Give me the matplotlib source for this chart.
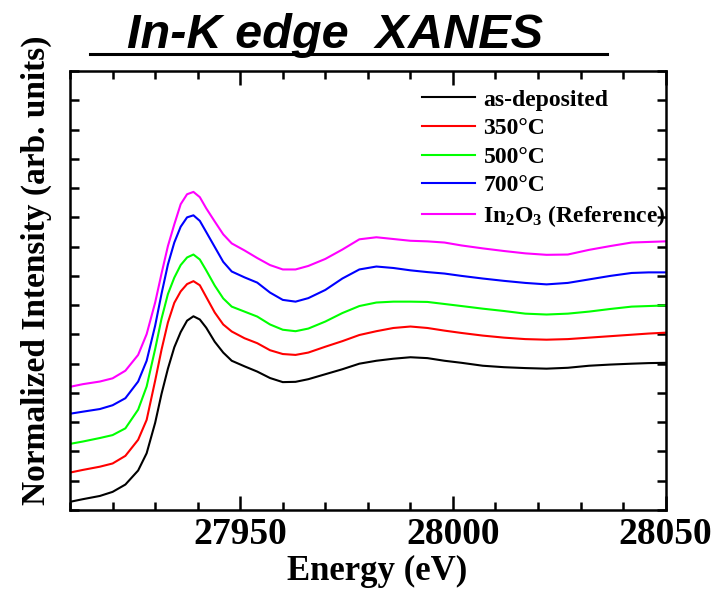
import numpy as np
import matplotlib
matplotlib.use("Agg")
import matplotlib.pyplot as plt
from matplotlib.ticker import MultipleLocator, NullFormatter
from matplotlib.lines import Line2D

# energy grid (eV)
energy = [27910, 27913, 27917, 27920, 27923, 27926, 27928, 27930, 27931.5, 27933,
          27934.5, 27936, 27937.5, 27939, 27940.5, 27942, 27944, 27946, 27948, 27951,
          27954, 27957, 27960, 27963, 27966, 27970, 27974, 27978, 27982, 27986,
          27990, 27994, 27998, 28002, 28007, 28012, 28017, 28022, 28027, 28032,
          28037, 28042, 28046, 28050]

# normalized intensity (stacked with offsets)
as_deposited = [0.028, 0.037, 0.048, 0.062, 0.087, 0.135, 0.194, 0.298, 0.397, 0.483,
                0.556, 0.608, 0.647, 0.662, 0.651, 0.623, 0.575, 0.538, 0.510, 0.491,
                0.473, 0.451, 0.437, 0.438, 0.447, 0.464, 0.481, 0.500, 0.510, 0.517,
                0.522, 0.519, 0.510, 0.503, 0.493, 0.488, 0.485, 0.483, 0.486, 0.493,
                0.497, 0.500, 0.502, 0.503]
t350 = [0.128, 0.137, 0.148, 0.159, 0.185, 0.240, 0.308, 0.442, 0.548, 0.641,
        0.708, 0.747, 0.772, 0.782, 0.768, 0.728, 0.675, 0.634, 0.610, 0.587,
        0.570, 0.546, 0.533, 0.530, 0.538, 0.558, 0.577, 0.598, 0.611, 0.622,
        0.627, 0.622, 0.613, 0.605, 0.596, 0.589, 0.584, 0.582, 0.584, 0.589,
        0.594, 0.599, 0.603, 0.606]
t500 = [0.226, 0.234, 0.246, 0.256, 0.279, 0.343, 0.422, 0.550, 0.654, 0.738,
        0.794, 0.837, 0.863, 0.873, 0.856, 0.819, 0.767, 0.723, 0.695, 0.678,
        0.661, 0.634, 0.616, 0.611, 0.620, 0.644, 0.673, 0.697, 0.709, 0.712,
        0.712, 0.711, 0.704, 0.697, 0.688, 0.680, 0.671, 0.668, 0.671, 0.678,
        0.687, 0.695, 0.697, 0.699]
t700 = [0.329, 0.336, 0.345, 0.358, 0.382, 0.439, 0.510, 0.630, 0.739, 0.839,
        0.914, 0.968, 1.000, 1.007, 0.988, 0.950, 0.899, 0.848, 0.815, 0.795,
        0.777, 0.743, 0.718, 0.712, 0.724, 0.752, 0.791, 0.822, 0.832, 0.827,
        0.819, 0.813, 0.808, 0.800, 0.791, 0.783, 0.776, 0.771, 0.776, 0.788,
        0.800, 0.810, 0.812, 0.812]
in2o3 = [0.421, 0.430, 0.439, 0.450, 0.476, 0.530, 0.601, 0.709, 0.808, 0.902,
         0.976, 1.045, 1.079, 1.087, 1.069, 1.031, 0.986, 0.942, 0.911, 0.887,
         0.861, 0.837, 0.822, 0.822, 0.834, 0.858, 0.890, 0.925, 0.932, 0.926,
         0.920, 0.918, 0.914, 0.904, 0.894, 0.885, 0.877, 0.872, 0.873, 0.889,
         0.902, 0.914, 0.916, 0.918]

labels = ["as-deposited", "350°C", "500°C", "700°C", "In$_2$O$_3$ (Reference)"]
colors = ["black", "#ff0000", "#00ff00", "#0000ff", "#ff00ff"]
series = [as_deposited, t350, t500, t700, in2o3]

plt.rcParams['mathtext.fontset'] = 'custom'
plt.rcParams['mathtext.rm'] = 'Liberation Serif:bold'
plt.rcParams['mathtext.bf'] = 'Liberation Serif:bold'
plt.rcParams['mathtext.it'] = 'Liberation Serif:bold'

fig = plt.figure(figsize=(7.15, 5.92), dpi=100)
ax = fig.add_axes([0.098, 0.1385, 0.833, 0.7415])

for y, c, lab in zip(series, colors, labels):
    ax.plot(energy, y, color=c, lw=1.5, label=lab)

ax.set_xlim(27910, 28050)
ax.set_ylim(0, 1.5)
ax.xaxis.set_major_locator(MultipleLocator(50))
ax.xaxis.set_minor_locator(MultipleLocator(10))
ax.yaxis.set_major_locator(MultipleLocator(0.1))
ax.yaxis.set_major_formatter(NullFormatter())
ax.tick_params(which='both', direction='in', top=True, right=True, width=1.8)
ax.tick_params(axis='x', which='major', length=10, pad=5)
ax.tick_params(axis='x', which='minor', length=6)
ax.tick_params(axis='y', which='major', length=6.5)
for s in ax.spines.values():
    s.set_linewidth(1.8)

for t in ax.get_xticklabels():
    t.set_fontfamily('Liberation Serif')
    t.set_fontweight('bold')
    t.set_fontsize(27)

ax.set_xlabel("Energy (eV)", fontfamily='Liberation Serif', fontweight='bold',
              fontsize=25)
ax.xaxis.set_label_coords(0.515, -0.103)
ax.set_ylabel("Normalized Intensity (arb. units)", fontfamily='Liberation Serif',
              fontweight='bold', fontsize=24)
ax.yaxis.set_label_coords(-0.03, 0.547)

leg = ax.legend(loc='upper left', bbox_to_anchor=(0.591, 0.959), frameon=False,
                handlelength=2.25, handletextpad=0.35, labelspacing=0.3,
                borderpad=0, borderaxespad=0,
                prop={'family': 'Liberation Serif', 'weight': 'bold', 'size': 17})

fig.text(0.4685, 0.919, "In-K edge  XANES", fontfamily='Liberation Sans',
         fontweight='bold', fontstyle='italic', fontsize=35, ha='center', va='baseline')
fig.add_artist(Line2D([90 / 715, 607 / 715], [0.9088, 0.9088], color='black', lw=2.2))

fig.savefig("out.png", dpi=100)
